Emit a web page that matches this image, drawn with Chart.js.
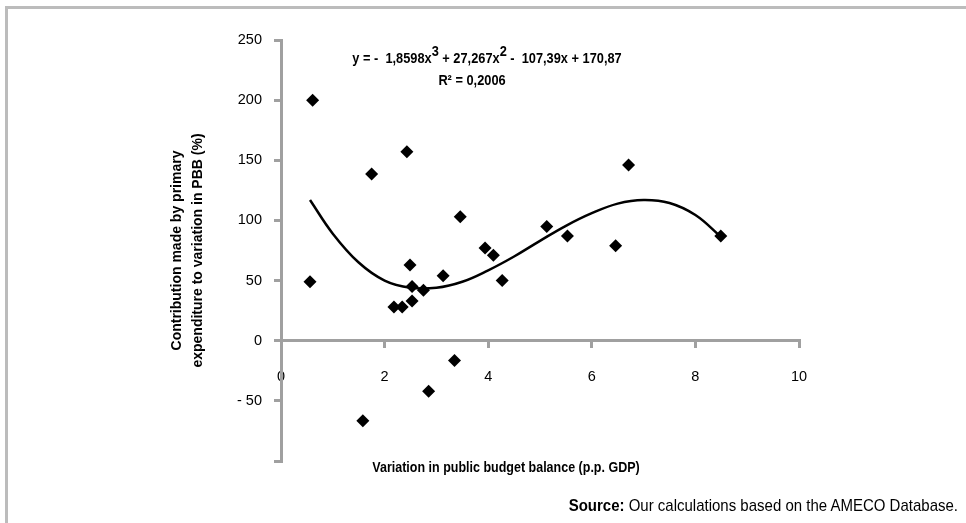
<!DOCTYPE html>
<html>
<head>
<meta charset="utf-8">
<script src="https://cdn.jsdelivr.net/npm/chart.js@4.4.1/dist/chart.umd.min.js"></script>
<style>
html,body{margin:0;padding:0;background:#fff;}
#wrap{position:relative;width:966px;height:523px;overflow:hidden;font-family:'Liberation Sans',Arial,sans-serif;color:#000;}
#frame{position:absolute;left:5px;top:6px;width:1000px;height:600px;border-left:3px solid #bcbcbc;border-top:3px solid #bcbcbc;}
canvas{position:absolute;left:0;top:0;}
.t{position:absolute;white-space:nowrap;color:#000;line-height:1;transform-origin:50% 50%;}
.t sup{font-size:1em;vertical-align:0.42em;line-height:0;}
</style>
</head>
<body>
<div id="wrap">
  <div id="frame"></div>
  <canvas id="c" width="966" height="523"></canvas>
  <div class="t" id="eq" style="left:487px;top:52px;transform:translateX(-50%) scaleY(1.15);font-weight:bold;font-size:12.8px;">y = -&nbsp; 1,8598x<sup>3</sup> + 27,267x<sup>2</sup> -&nbsp; 107,39x + 170,87</div>
  <div class="t" id="r2" style="left:472px;top:74px;transform:translateX(-50%) scaleY(1.15);font-weight:bold;font-size:12.8px;">R² = 0,2006</div>
  <div class="t" id="xt" style="left:506px;top:461px;transform:translateX(-50%) scaleY(1.15);font-weight:bold;font-size:12.5px;">Variation in public budget balance (p.p. GDP)</div>
  <div class="t" id="src" style="right:8px;top:497px;transform:scaleY(1.12);font-size:15px;"><b>Source:</b> Our calculations based on the AMECO Database.</div>
</div>
<script>
// Observations (x: variation in public budget balance, y: contribution %)
const xValues = [0.61, 0.56, 1.75, 2.43, 2.49, 2.53, 2.53, 2.18, 2.34, 2.75, 3.13, 3.46, 3.94, 4.10, 4.27, 5.13, 5.53, 6.46, 6.71, 8.49, 1.58, 2.85, 3.35];
const yValues = [200, 49, 138.5, 157, 63, 45, 33, 28, 28, 42, 54, 103, 77, 71, 50, 95, 87, 79, 146, 87, -66.5, -42, -16.5];

// Polynomial trend line
const trendX = [0.56, 1, 1.5, 2, 2.5, 3, 3.5, 4, 4.5, 5, 5.5, 6, 6.5, 7, 7.5, 8, 8.49];
const trendY = [117, 89, 65, 50, 44, 44, 49, 58.5, 70, 83, 95.5, 106, 114, 117, 114.5, 104.5, 86.5];

// Axis ticks
const xTickValues = [0, 2, 4, 6, 8, 10];
const xTickLabels = ['0', '2', '4', '6', '8', '10'];
const yTickValues = [-100, -50, 0, 50, 100, 150, 200, 250];
const yTickLabels = ['', '- 50', '0', '50', '100', '150', '200', '250'];

const yTitle = ['Contribution made by primary', 'expenditure to variation in PBB (%)'];

const points = xValues.map((x, i) => ({x: x, y: yValues[i]}));
const trend = trendX.map((x, i) => ({x: x, y: trendY[i]}));

const axisColor = '#a0a0a0';
const tickFont = {family: "'Liberation Sans', Arial, sans-serif", size: 14.5};

new Chart(document.getElementById('c').getContext('2d'), {
  type: 'scatter',
  data: {
    datasets: [
      {
        label: 'Observations',
        data: points,
        pointStyle: 'rectRot',
        pointRadius: 6.5,
        pointHoverRadius: 6.5,
        backgroundColor: '#000',
        borderColor: '#000',
        borderWidth: 0,
        order: 0
      },
      {
        label: 'Poly. trend',
        data: trend,
        showLine: true,
        pointRadius: 0,
        pointHoverRadius: 0,
        borderColor: '#000',
        borderWidth: 2.5,
        tension: 0.4,
        fill: false,
        order: 1
      }
    ]
  },
  options: {
    responsive: false,
    animation: false,
    devicePixelRatio: 1,
    layout: {padding: {left: 167, top: 40, right: 167, bottom: 62}},
    plugins: {legend: {display: false}, tooltip: {enabled: false}},
    scales: {
      x: {
        type: 'linear',
        position: {y: 0},
        min: 0, max: 10,
        afterBuildTicks: (s) => { s.ticks = xTickValues.map(v => ({value: v})); },
        ticks: {
          padding: 22, color: '#000', font: tickFont, maxRotation: 0, autoSkip: false,
          callback: (v) => xTickLabels[xTickValues.indexOf(v)]
        },
        grid: {drawOnChartArea: false, drawTicks: true, tickLength: 6, color: axisColor, lineWidth: 3},
        border: {color: axisColor, width: 3},
        afterFit: (s) => { s.height = 0; }
      },
      y: {
        type: 'linear',
        position: 'left',
        min: -100, max: 250,
        afterBuildTicks: (s) => { s.ticks = yTickValues.map(v => ({value: v})); },
        ticks: {
          padding: 12, color: '#000', font: tickFont, autoSkip: false,
          callback: (v) => yTickLabels[yTickValues.indexOf(v)]
        },
        grid: {drawOnChartArea: false, drawTicks: true, tickLength: 7, color: axisColor, lineWidth: 3},
        border: {color: axisColor, width: 3},
        title: {
          display: true,
          text: yTitle,
          color: '#000',
          font: {family: "'Liberation Sans', Arial, sans-serif", size: 14, weight: 'bold', lineHeight: 1.5},
          padding: 0
        },
        afterFit: (s) => { s.width = 114; }
      }
    }
  }
});
</script>
</body>
</html>
